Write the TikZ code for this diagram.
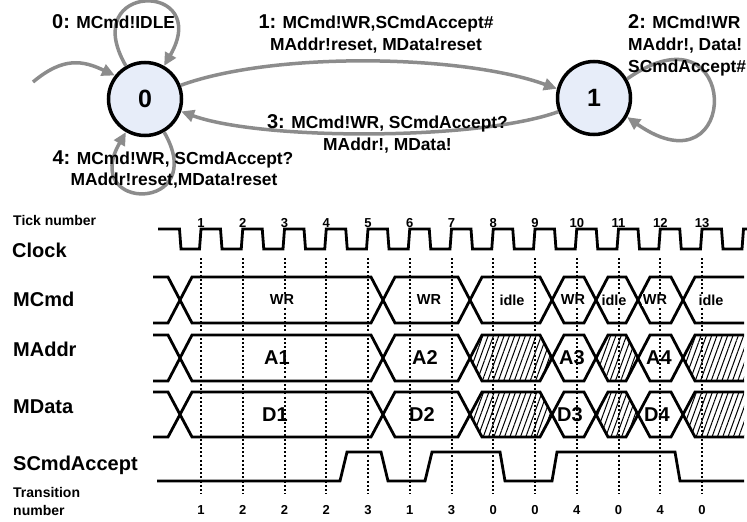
\documentclass[tikz,border=0pt]{standalone}
\usepackage{fontspec}
\setmainfont{Liberation Sans}
\usetikzlibrary{arrows.meta,patterns.meta}
\definecolor{arrowgray}{RGB}{140,140,140}
\definecolor{statefill}{RGB}{231,237,249}
\newcommand\bigdig[1]{{\fontsize{20}{24}\selectfont #1}}
\begin{document}
\begin{tikzpicture}[x=1pt,y=-1pt,
  statenode/.style={circle,draw=black,line width=3.5pt,fill=statefill,minimum size=73pt,inner sep=0pt,font=\fontsize{25}{28}\selectfont\bfseries},
  arr/.style={draw=arrowgray,line width=3.5pt,-{Triangle[length=13pt,width=12pt]}},
  lbl/.style={inner sep=0pt,font=\fontsize{17.4}{20}\selectfont\bfseries},
  sig/.style={inner sep=0pt,font=\fontsize{20}{24}\selectfont\bfseries},
  smalllbl/.style={inner sep=0pt,font=\fontsize{14}{16}\selectfont\bfseries},
  num/.style={inner sep=0pt,font=\fontsize{13}{15}\selectfont\bfseries},
  wave/.style={draw=black,line width=2.8pt},
  dotline/.style={draw=black,line width=2pt,dash pattern=on 2pt off 2.2pt},
  cmdtxt/.style={fill=white,inner sep=1pt,font=\fontsize{14.5}{16}\selectfont\bfseries},
  datatxt/.style={inner sep=0pt,font=\fontsize{20}{24}\selectfont\bfseries},
  hatch/.style={pattern={Lines[angle=70,distance=5pt,line width=1pt]}}
]
\useasboundingbox (0,0) rectangle (747,522);

% ---------------- state machine ----------------
\node[statenode] (s0) at (145,99) {0};
\node[statenode] (s1) at (594,98) {1};
\coordinate (init) at (33,82);

\draw[arr] (init) .. controls +(40:40pt) and +(155:35pt) .. (s0.142);
\draw[arr] (s0.120) .. controls +(120:98pt) and +(60:98pt) .. (s0.60);
\draw[arr] (s0.-60) .. controls +(-60:93pt) and +(-120:93pt) .. (s0.-120);
\draw[arr] (s0.21) .. controls +(20:100pt) and +(160:100pt) .. (s1.166);
\draw[arr] (s1.201) .. controls +(200:85pt) and +(-20:85pt) .. (s0.341);
\draw[arr] (s1.30) .. controls +(35:140pt) and +(-35:140pt) .. (s1.-30);

\node[lbl,anchor=base west] (l0) at (52,28) {\bigdig{0:} MCmd!IDLE};
\node[lbl,anchor=base] (l1a) at (376,28) {\bigdig{1:} MCmd!WR,SCmdAccept\#};
\node[lbl,anchor=base] (l1b) at (376,50.5) {MAddr!reset, MData!reset};
\node[lbl,anchor=base west] (l2a) at (628,28) {\bigdig{2:} MCmd!WR};
\node[lbl,anchor=base west] (l2b) at (628,50) {MAddr!, Data!};
\node[lbl,anchor=base west] (l2c) at (628,72) {SCmdAccept\#};
\node[lbl,anchor=base] (l3a) at (387.5,128) {\bigdig{3:} MCmd!WR, SCmdAccept?};
\node[lbl,anchor=base] (l3b) at (387.5,150.5) {MAddr!, MData!};
\node[lbl,anchor=base] (l4a) at (173,164) {\bigdig{4:} MCmd!WR, SCmdAccept?};
\node[lbl,anchor=base] (l4b) at (174,185) {MAddr!reset,MData!reset};

% ---------------- timing diagram ----------------
\node[smalllbl,anchor=base west] (ticklbl) at (13,225) {Tick number};
\node[sig,anchor=base west] (clklbl) at (12,257) {Clock};
\node[sig,anchor=base west] (cmdlbl) at (13,306) {MCmd};
\node[sig,anchor=base west] (addrlbl) at (13,356) {MAddr};
\node[sig,anchor=base west] (datalbl) at (13,413) {MData};
\node[sig,anchor=base west] (acclbl) at (13,470) {SCmdAccept};
\node[smalllbl,anchor=base west] (trlbl1) at (13,497) {Transition};
\node[smalllbl,anchor=base west] (trlbl2) at (13,515) {number};

% dotted tick lines
\foreach \k in {1,...,13}
  \draw[dotline] ({201+(\k-1)*41.75},258) -- ({201+(\k-1)*41.75},494);

% tick numbers
\foreach \k in {1,...,13}
  \node[num,anchor=base] (tick\k) at ({201+(\k-1)*41.75},227) {\k};

% transition numbers
\foreach \k/\v in {1/1,2/2,3/2,4/2,5/3,6/1,7/3,8/0,9/0,10/4,11/0,12/4,13/0}
  \node[num,anchor=base] (tr\k) at ({201+(\k-1)*41.75},514) {\v};

% clock
\draw[wave,line join=miter] (158,229) -- (179.5,229) -- (181,249)
  \foreach \k in {1,...,13}{
    -- ({199.5+(\k-1)*41.75},249) -- ({201+(\k-1)*41.75},229)
    -- ({220.5+(\k-1)*41.75},229) -- ({222+(\k-1)*41.75},249) }
  -- (742,249) -- (743.5,229) -- (747,229);

% hatched (undefined) regions of MAddr and MData
\foreach \yt/\yb/\ym in {335/381/358,392/437/414.5}{
  \foreach \a/\b in {470/552,596/638}
    \fill[hatch] (\a,\ym) -- ({\a+12},\yt) -- ({\b-12},\yt) -- (\b,\ym) -- ({\b-12},\yb) -- ({\a+12},\yb) -- cycle;
  \fill[hatch] (744,\yt) -- (695,\yt) -- (683,\ym) -- (695,\yb) -- (744,\yb) -- cycle;
}

% bus outlines
\foreach \yt/\yb/\ym in {277/323/300,335/381/358,392/437/414.5}{
  \draw[wave] (153,\yt) -- (168,\yt) -- (180,\ym) -- (168,\yb) -- (153,\yb);
  \foreach \a/\b in {180/383,383/470,470/552,552/596,596/638,638/683}
    \draw[wave] (\a,\ym) -- ({\a+12},\yt) -- ({\b-12},\yt) -- (\b,\ym) -- ({\b-12},\yb) -- ({\a+12},\yb) -- cycle;
  \draw[wave] (744,\yt) -- (695,\yt) -- (683,\ym) -- (695,\yb) -- (744,\yb);
}

% MCmd values
\node[cmdtxt] (c1) at (282,300) {WR};
\node[cmdtxt] (c2) at (429,300) {WR};
\node[cmdtxt] (c3) at (512,300) {idle};
\node[cmdtxt] (c4) at (573,300) {WR};
\node[cmdtxt] (c5) at (614,300) {idle};
\node[cmdtxt] (c6) at (655,300) {WR};
\node[cmdtxt] (c7) at (711,300) {idle};

% MAddr values
\node[datatxt] (a1) at (277,358) {A1};
\node[datatxt] (a2) at (425,358) {A2};
\node[datatxt] (a3) at (572,358) {A3};
\node[datatxt] (a4) at (659,358) {A4};

% MData values
\node[datatxt] (d1) at (275,414.5) {D1};
\node[datatxt] (d2) at (422,414.5) {D2};
\node[datatxt] (d3) at (570,414.5) {D3};
\node[datatxt] (d4) at (657,414.5) {D4};

% SCmdAccept
\draw[wave] (157,481) -- (340,481) -- (347,452) -- (381,452) -- (388,481)
  -- (425,481) -- (432,452) -- (500,452) -- (505,481) -- (552,481)
  -- (557,452) -- (675,452) -- (680,481) -- (744,481);
\end{tikzpicture}
\end{document}
